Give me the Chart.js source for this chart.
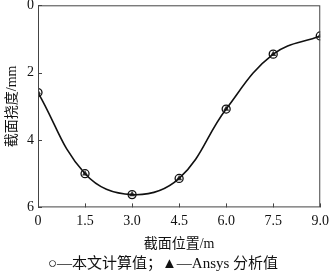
<!DOCTYPE html>
<html>
<head>
<meta charset="utf-8">
<script src="https://cdn.jsdelivr.net/npm/chart.js@4.4.0/dist/chart.umd.min.js"></script>
<style>
  html, body { margin: 0; padding: 0; background: #fff; }
  #wrap { width: 335px; height: 273px; }
</style>
</head>
<body>
<div id="wrap"><canvas id="deflectionChart" width="335" height="273"></canvas></div>
<script>
// section position (m) and deflection (mm)
const positions = [0, 1.5, 3.0, 4.5, 6.0, 7.5, 9.0];
const calcValues = [2.59, 5.0, 5.62, 5.14, 3.08, 1.45, 0.91];
const ansysValues = [2.59, 5.0, 5.62, 5.14, 3.08, 1.45, 0.91];
const xTicks = [0, 1.5, 3.0, 4.5, 6.0, 7.5, 9.0];
const yTicks = [0, 2, 4, 6];

const serif = "'Liberation Serif', 'Times New Roman', serif";
const cjk = "'Liberation Serif', 'Noto Sans CJK SC', serif";

function toPoints(values) {
    var pts = [];
    for (var i = 0; i < positions.length; i++) {
        pts.push({ x: positions[i], y: values[i] });
    }
    return pts;
}

// frame round the plot area plus short inward tick marks
const framePlugin = {
    id: "frame",
    afterDraw(chart) {
        const ctx = chart.ctx;
        const a = chart.chartArea;
        const xs = chart.scales.x, ys = chart.scales.y;
        ctx.save();
        ctx.strokeStyle = "#444";
        ctx.lineWidth = 1;
        ctx.strokeRect(a.left + 0.5, a.top + 0.5, a.right - a.left - 1, a.bottom - a.top - 1);
        ctx.beginPath();
        yTicks.forEach(v => {
            const y = Math.round(ys.getPixelForValue(v)) + 0.5;
            ctx.moveTo(a.left, y);
            ctx.lineTo(a.left + 4, y);
        });
        xTicks.forEach(v => {
            const x = Math.round(xs.getPixelForValue(v)) + 0.5;
            ctx.moveTo(x, a.bottom);
            ctx.lineTo(x, a.bottom - 4);
        });
        ctx.stroke();
        ctx.restore();
    }
};

const ctx = document.getElementById("deflectionChart").getContext("2d");
const chartObject = new Chart(ctx, {
    type: "scatter",
    data: {
        datasets: [
            {
                label: "本文计算值",
                data: toPoints(calcValues),
                showLine: true,
                tension: 0.4,
                borderColor: "#111",
                borderWidth: 1.6,
                pointStyle: "circle",
                pointRadius: 4,
                pointBorderWidth: 1.3,
                pointBorderColor: "#111",
                pointBackgroundColor: "rgba(255,255,255,0)"
            },
            {
                label: "Ansys 分析值",
                data: toPoints(ansysValues),
                showLine: false,
                pointStyle: "triangle",
                pointRadius: 3.5,
                pointBorderWidth: 0,
                pointBackgroundColor: "#333"
            }
        ]
    },
    options: {
        responsive: false,
        animation: false,
        layout: { padding: { top: 5, right: 13, left: 4, bottom: 0 } },
        plugins: {
            legend: { display: false },
            tooltip: { enabled: false },
            title: {
                display: true,
                position: "bottom",
                text: "○—本文计算值；▲—Ansys 分析值",
                color: "#111",
                font: { family: cjk, size: 15, weight: "normal" },
                padding: { top: 2, bottom: 0 }
            }
        },
        scales: {
            x: {
                type: "linear",
                min: 0,
                max: 9,
                afterBuildTicks: scale => { scale.ticks = xTicks.map(v => ({ value: v })); },
                grid: { display: false, drawTicks: false },
                border: { display: false },
                ticks: {
                    color: "#111",
                    padding: 6,
                    font: { family: serif, size: 14 },
                    callback: v => v === 0 ? "0" : Number(v).toFixed(1)
                },
                title: {
                    display: true,
                    text: "截面位置/m",
                    color: "#111",
                    font: { family: cjk, size: 14 },
                    padding: { top: 0, bottom: 0 }
                }
            },
            y: {
                type: "linear",
                reverse: true,
                min: 0,
                max: 6,
                afterBuildTicks: scale => { scale.ticks = yTicks.map(v => ({ value: v })); },
                afterFit: scale => {
                    scale.width = 34;
                    scale.paddingTop = 0;
                    scale.paddingBottom = 0;
                },
                grid: { display: false, drawTicks: false },
                border: { display: false },
                ticks: {
                    color: "#111",
                    padding: 4,
                    font: { family: serif, size: 14 }
                },
                title: {
                    display: true,
                    text: "截面挠度/mm",
                    color: "#111",
                    font: { family: cjk, size: 14 },
                    padding: { top: 0, bottom: 0 }
                }
            }
        }
    },
    plugins: [framePlugin]
});
</script>
</body>
</html>
